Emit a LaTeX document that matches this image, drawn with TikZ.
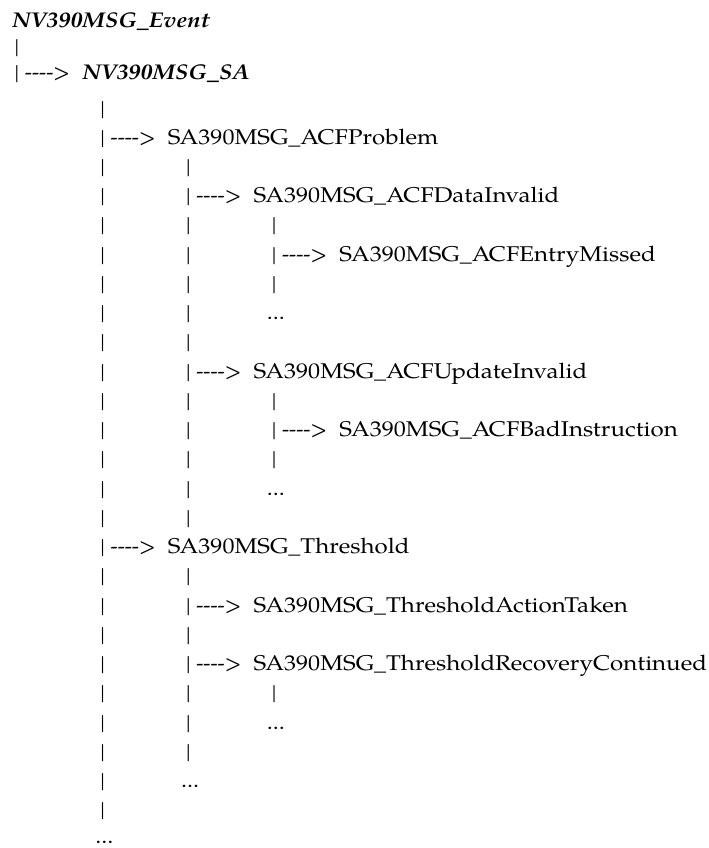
\documentclass[tikz,border=0pt]{standalone}
\usepackage{fontspec}
\setmainfont{TeX Gyre Pagella}[UprightFeatures={FakeStretch=1.13},
  BoldItalicFeatures={FakeStretch=1.12}]
\newfontfamily\dashfont{TeX Gyre Pagella}
\newcommand\dashto{{\dashfont -{}-{}-{}->}}
\begin{document}
\begin{tikzpicture}[x=64.28pt, y=-21.93pt, font=\fontsize{16}{19}\selectfont,
    txt/.style={inner sep=0pt},
    vbar/.style={txt, anchor=base},
    msg/.style={txt, anchor=base west},
    topmsg/.style={msg, font=\fontsize{16}{19}\selectfont\bfseries\itshape}]
  \useasboundingbox (-0.1984,-0.934) rectangle (8.063,28.068);

  \node[topmsg] (event) at (-0.06,0) {NV390MSG\_Event};
  \node[vbar] (b0-1) at (0,0.88) {|};
  \node[vbar] (b0-2) at (0,1.8) {|};
  \node[msg] (d0-2) at (0.09,1.8) {\dashto};
  \node[topmsg] (sa) at (0.7585,1.8) {NV390MSG\_SA};

  \foreach \r in {3,...,27}
  \node[vbar] (b1-\r) at (1,\r) {|};
  \foreach \r in {5,...,17}
  \node[vbar] (b2-\r) at (2,\r) {|};
  \foreach \r in {19,...,25}
  \node[vbar] (b2-\r) at (2,\r) {|};
  \foreach \r in {7,8,9,13,14,15,23}
  \node[vbar] (b3-\r) at (3,\r) {|};

  \foreach \c/\r/\n/\t in {1/4/acfprob/ACFProblem, 2/6/datainv/ACFDataInvalid,
      3/8/entrymiss/ACFEntryMissed, 2/12/updinv/ACFUpdateInvalid,
      3/14/badinstr/ACFBadInstruction, 1/18/thresh/Threshold,
      2/20/acttaken/ThresholdActionTaken, 2/22/recov/ThresholdRecoveryContinued} {
    \node[msg] (d\c-\r) at (\c+0.09,\r) {\dashto};
    \node[msg] (\n) at (\c+0.7585,\r) {SA390MSG\_\t};
  }

  \foreach \c/\r in {3/10, 3/16, 3/24, 2/26, 1/27.9}
  \node[vbar] (e\c-\r) at (\c+0.02,\r) {...};
\end{tikzpicture}
\end{document}
